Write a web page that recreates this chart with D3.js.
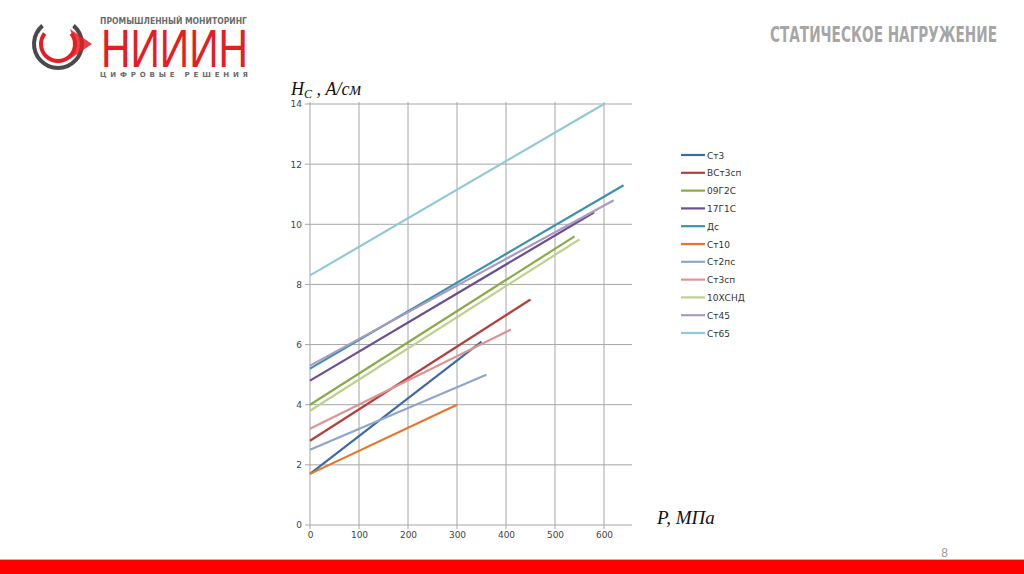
<!DOCTYPE html>
<html><head><meta charset="utf-8">
<script src="https://cdn.jsdelivr.net/npm/d3@7"></script>
<style>body{margin:0;background:#fff}svg{display:block}</style>
</head><body>
<script>
const seriesNames = ["Ст3","ВСт3сп","09Г2С","17Г1С","Дс","Ст10","Ст2пс","Ст3сп","10ХСНД","Ст45","Ст65"];
const seriesColors = ["#3f6aa3","#b3403d","#8aab47","#6a4f91","#3a93ab","#e8762a","#8fa6cc","#d99694","#bcd18f","#ab9ac2","#93c8d8"];
const startP = [0,0,0,0,0,0,0,0,0,0,0];
const startH = [1.7,2.8,4.0,4.8,5.2,1.7,2.5,3.2,3.8,5.3,8.3];
const endP   = [350,450,540,580,640,300,360,410,550,620,600];
const endH   = [6.1,7.5,9.6,10.4,11.3,4.0,5.0,6.5,9.5,10.8,14.0];
const xTicks = [0,100,200,300,400,500,600];
const yTicks = [0,2,4,6,8,10,12,14];

const W=1024,H=574;
const svg=d3.select("body").append("svg").attr("width",W).attr("height",H);

// header: logo
const logo=svg.append("g");
logo.append("path").attr("d",d3.arc()({innerRadius:22,outerRadius:26,startAngle:0.7,endAngle:2*Math.PI-0.7}))
  .attr("transform","translate(58,44)").attr("fill","#4a4a4a");
logo.append("path").attr("d",d3.arc()({innerRadius:15,outerRadius:19,startAngle:0.9,endAngle:2*Math.PI-0.9}))
  .attr("transform","translate(58,44)").attr("fill","#e31e24");
logo.append("path").attr("d","M70,29 L92,44 L70,59 L75,44 Z").attr("fill","#e31e24").attr("opacity",0.85);
logo.append("text").attr("x",100).attr("y",24).attr("font-family","DejaVu Sans").attr("font-weight","bold")
  .attr("font-size",8.5).attr("fill","#6b6b6b").attr("textLength",147).attr("lengthAdjust","spacingAndGlyphs").text("ПРОМЫШЛЕННЫЙ МОНИТОРИНГ");
logo.append("text").attr("x",101).attr("y",67).attr("font-family","Liberation Sans").attr("font-size",53)
  .attr("fill","#e31e24").attr("textLength",147).attr("lengthAdjust","spacingAndGlyphs").text("НИИИН");
logo.append("text").attr("x",100).attr("y",77).attr("font-family","DejaVu Sans").attr("font-weight","bold")
  .attr("font-size",7).attr("fill","#6b6b6b").attr("textLength",148).attr("lengthAdjust","spacing").text("ЦИФРОВЫЕ РЕШЕНИЯ");

svg.append("text").attr("x",770).attr("y",42)
  .attr("font-family","Liberation Sans Narrow, DejaVu Sans Condensed, Liberation Sans").attr("font-weight","bold")
  .attr("font-size",21).attr("fill","#a6a6a6").attr("textLength",227).attr("lengthAdjust","spacingAndGlyphs")
  .text("СТАТИЧЕСКОЕ НАГРУЖЕНИЕ");

// chart
const x=d3.scaleLinear().domain([0,600]).range([310,604]);
const y=d3.scaleLinear().domain([0,14]).range([525,104]);
const grid=svg.append("g");
yTicks.forEach(t=>{
  grid.append("line").attr("x1",305).attr("x2",632).attr("y1",y(t)).attr("y2",y(t)).attr("stroke","#a6a6a6").attr("stroke-width",1);
});
xTicks.forEach(t=>{
  grid.append("line").attr("x1",x(t)).attr("x2",x(t)).attr("y1",102).attr("y2",529).attr("stroke","#a6a6a6").attr("stroke-width",1);
});
const yAxis=d3.axisLeft(y).tickValues(yTicks).tickSize(0).tickPadding(4);
svg.append("g").attr("transform","translate(306,0)").call(yAxis)
  .call(g=>g.select(".domain").remove())
  .selectAll("text").attr("font-family","DejaVu Sans").attr("font-size",9).attr("fill","#444");
const xAxis=d3.axisBottom(x).tickValues(xTicks).tickSize(0).tickPadding(6);
svg.append("g").attr("transform","translate(0,526)").call(xAxis)
  .call(g=>g.select(".domain").remove())
  .selectAll("text").attr("font-family","DejaVu Sans").attr("font-size",9).attr("fill","#444");

const data=seriesNames.map((n,i)=>({name:n,color:seriesColors[i],pts:[[startP[i],startH[i]],[endP[i],endH[i]]]}));
const line=d3.line().x(d=>x(d[0])).y(d=>y(d[1]));
svg.append("g").selectAll("path").data(data).join("path")
  .attr("d",d=>line(d.pts)).attr("fill","none").attr("stroke",d=>d.color).attr("stroke-width",2.2);

// axis titles
const yt=svg.append("text").attr("x",291).attr("y",95).attr("font-family","Liberation Serif").attr("font-style","italic")
  .attr("font-size",18).attr("fill","#111");
yt.append("tspan").text("H");
yt.append("tspan").attr("font-size",12).attr("dy",3).text("C");
yt.append("tspan").attr("dy",-3).text(" , А/см");
svg.append("text").attr("x",657).attr("y",524).attr("font-family","Liberation Serif").attr("font-style","italic")
  .attr("font-size",19).attr("fill","#111").text("P, МПа");

// legend
const lg=svg.append("g").selectAll("g").data(data).join("g").attr("transform",(d,i)=>`translate(681,${155+i*17.8})`);
lg.append("line").attr("x1",0).attr("x2",24).attr("stroke",d=>d.color).attr("stroke-width",2.2);
lg.append("text").attr("x",26).attr("y",3.5).attr("font-family","DejaVu Sans").attr("font-size",9).attr("fill","#333").text(d=>d.name);

// footer
svg.append("text").attr("x",948).attr("y",557).attr("text-anchor","end").attr("font-family","Liberation Sans")
  .attr("font-size",12).attr("fill","#9a9a9a").text("8");
svg.append("rect").attr("x",0).attr("y",559).attr("width",W).attr("height",1).attr("fill","#f7a0a0");
svg.append("rect").attr("x",0).attr("y",560).attr("width",W).attr("height",14).attr("fill","#ff0000");
</script>
</body></html>
